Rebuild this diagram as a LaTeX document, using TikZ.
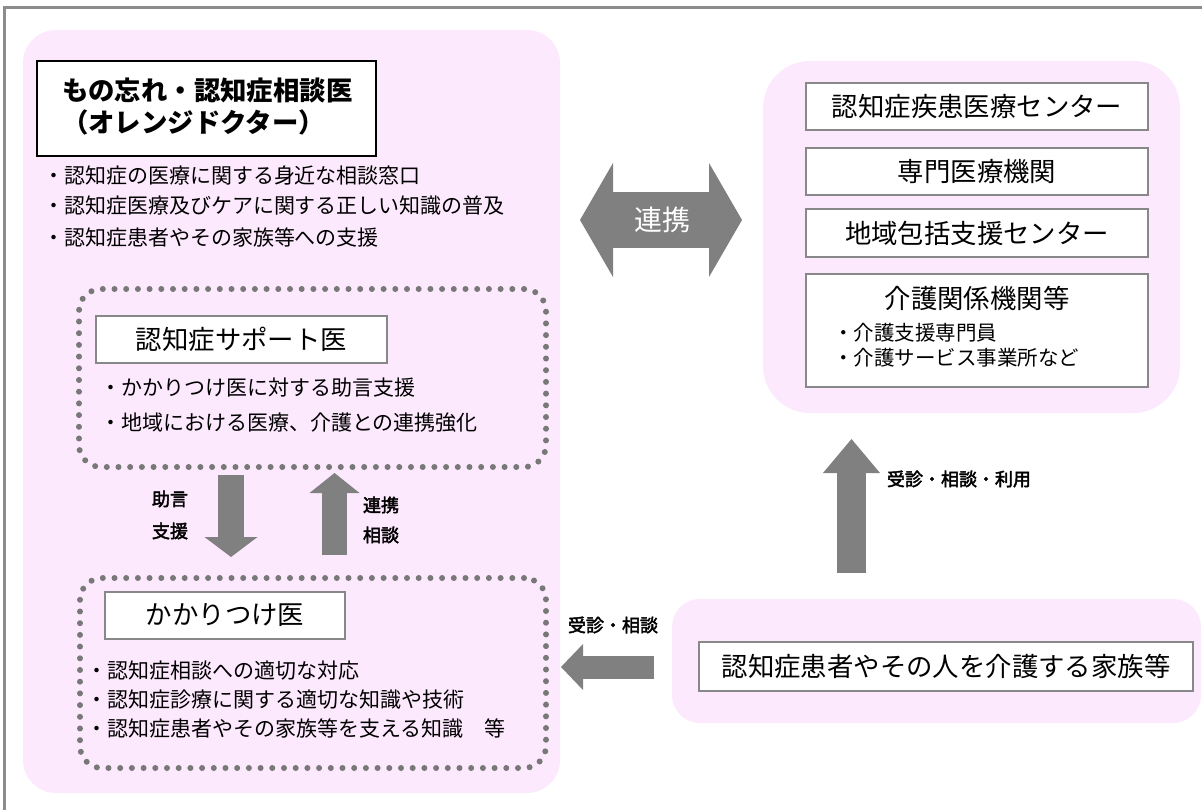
\documentclass[tikz,border=0pt]{standalone}
\usepackage{fontspec}
\newfontfamily\jp{Noto Sans CJK JP}
\newfontfamily\jpmed[FakeBold=2.5]{Noto Sans CJK JP}
\usetikzlibrary{arrows.meta,calc}
\definecolor{pinkbg}{RGB}{253,233,253}
\definecolor{framegray}{RGB}{140,140,140}
\definecolor{boxgray}{RGB}{136,136,136}
\definecolor{arrowgray}{RGB}{128,128,128}
\definecolor{dotgray}{RGB}{120,120,120}
\begin{document}
\begin{tikzpicture}[x=1pt,y=-1pt,
  every node/.style={font=\jp, inner sep=0pt, outer sep=0pt},
  region/.style={fill=pinkbg, draw=none, anchor=north west},
  dotbox/.style={draw=dotgray, line width=6pt, dash pattern=on 0pt off 11.7pt, line cap=round, anchor=north west, rounded corners=22pt},
  labbox/.style={draw=boxgray, line width=1.8pt, fill=white, anchor=north west, font=\jp\fontsize{26.4}{30}\selectfont},
  titletext/.style={anchor=west, font=\jp\bfseries\fontsize{26.4}{30}\selectfont},
  bul/.style={anchor=west, font=\jp\fontsize{21}{25}\selectfont},
  rbul/.style={anchor=west, font=\jp\fontsize{20.5}{24}\selectfont},
  lab/.style={font=\jpmed\fontsize{18}{22}\selectfont},
  blk/.style={draw=arrowgray, line width=#1},
]
\useasboundingbox (0,0) rectangle (1202,810);
\clip (0,0) rectangle (1202,810);
\fill[white] (0,0) rectangle (1202,810);
\draw[framegray, line width=3pt] (4,8) rectangle (1240,850);

% background regions
\node[region, rounded corners=33pt, minimum width=537pt, minimum height=763pt] (leftbg) at (23,30) {};
\node[region, rounded corners=47pt, minimum width=417pt, minimum height=352pt] (rightbg) at (763,61) {};
\node[region, rounded corners=28pt, minimum width=529pt, minimum height=124pt] (famsbg) at (672,599) {};

% orange doctor
\node[draw=black, line width=1.5pt, fill=white, anchor=north west, minimum width=339pt, minimum height=95pt] (title) at (37,61) {};
\node[titletext] (t1) at (62,90) {もの忘れ・認知症相談医};
\node[titletext] (t2) at (62,122) {（オレンジドクター）};
\node[bul] (b1) at (43,176) {・認知症の医療に関する身近な相談窓口};
\node[bul] (b2) at (43,206) {・認知症医療及びケアに関する正しい知識の普及};
\node[bul] (b3) at (43,237) {・認知症患者やその家族等への支援};

% support doctor
\node[dotbox, minimum width=467pt, minimum height=178pt] (support) at (79,289) {};
\node[labbox, minimum width=291pt, minimum height=47pt] (supname) at (96,316) {認知症サポート医};
\node[bul] (sb1) at (100,388) {・かかりつけ医に対する助言支援};
\node[bul] (sb2) at (100,423) {・地域における医療、介護との連携強化};

% family doctor
\node[dotbox, minimum width=466pt, minimum height=190pt] (kakari) at (80,578) {};
\node[labbox, minimum width=240pt, minimum height=47pt] (kakname) at (105,592) {かかりつけ医};
\node[bul] (kb1) at (86.5,671) {・認知症相談への適切な対応};
\node[bul] (kb2) at (86.5,700) {・認知症診療に関する適切な知識や技術};
\node[bul] (kb3) at (86.5,729) {・認知症患者やその家族等を支える知識　等};

% right institutions
\node[labbox, minimum width=342pt, minimum height=47pt] (r1) at (806,83) {認知症疾患医療センター};
\node[labbox, minimum width=342pt, minimum height=47pt] (r2) at (806,148) {専門医療機関};
\node[labbox, minimum width=342pt, minimum height=48pt] (r3) at (806,209) {地域包括支援センター};
\node[labbox, minimum width=342pt, minimum height=113pt] (r4) at (806,274) {};
\node[font=\jp\fontsize{26.4}{30}\selectfont] (r4t) at (977,298) {介護関係機関等};
\node[rbul] (r4b1) at (833,333) {・介護支援専門員};
\node[rbul] (r4b2) at (833,358) {・介護サービス事業所など};

% family
\node[labbox, minimum width=494pt, minimum height=49pt] (fam) at (699,642) {認知症患者やその人を介護する家族等};

% connectors
\coordinate (xd) at (231,0);
\coordinate (xu) at (334.5,0);
\coordinate (yl) at (0,220);
\coordinate (xr) at (851.5,0);
\coordinate (yh) at (0,667);

\draw[blk=26pt, -{Triangle[length=20pt,width=53pt,line width=0pt]}, shorten <=8pt, shorten >=21pt]
  (support.south -| xd) -- (kakari.north -| xd);
\draw[blk=25pt, -{Triangle[length=20pt,width=50pt,line width=0pt]}, shorten <=23pt, shorten >=6pt]
  (kakari.north -| xu) -- (support.south -| xu);
\draw[blk=56pt, {Triangle[length=33pt,width=114pt,line width=0pt]}-{Triangle[length=33pt,width=114pt,line width=0pt]}, shorten <=20pt, shorten >=21pt]
  (leftbg.east |- yl) -- (rightbg.west |- yl);
\draw[blk=29pt, -{Triangle[length=34pt,width=57pt,line width=0pt]}, shorten <=26pt, shorten >=26pt]
  (famsbg.north -| xr) -- (rightbg.south -| xr);
\draw[blk=23pt, -{Triangle[length=22pt,width=46pt,line width=0pt]}, shorten <=18pt, shorten >=15pt]
  (famsbg.west |- yh) -- (kakari.east |- yh);

% labels
\node[text=white, font=\jp\fontsize{28}{32}\selectfont] (lk) at (662,220) {連携};
\node[lab] (l1) at (170,499) {助言};
\node[lab] (l2) at (170,531) {支援};
\node[lab, anchor=west] (l3) at (363,505) {連携};
\node[lab, anchor=west] (l4) at (363,535) {相談};
\node[lab] (l5) at (613,625) {受診・相談};
\node[lab, anchor=west] (l6) at (887,479) {受診・相談・利用};
\end{tikzpicture}
\end{document}
